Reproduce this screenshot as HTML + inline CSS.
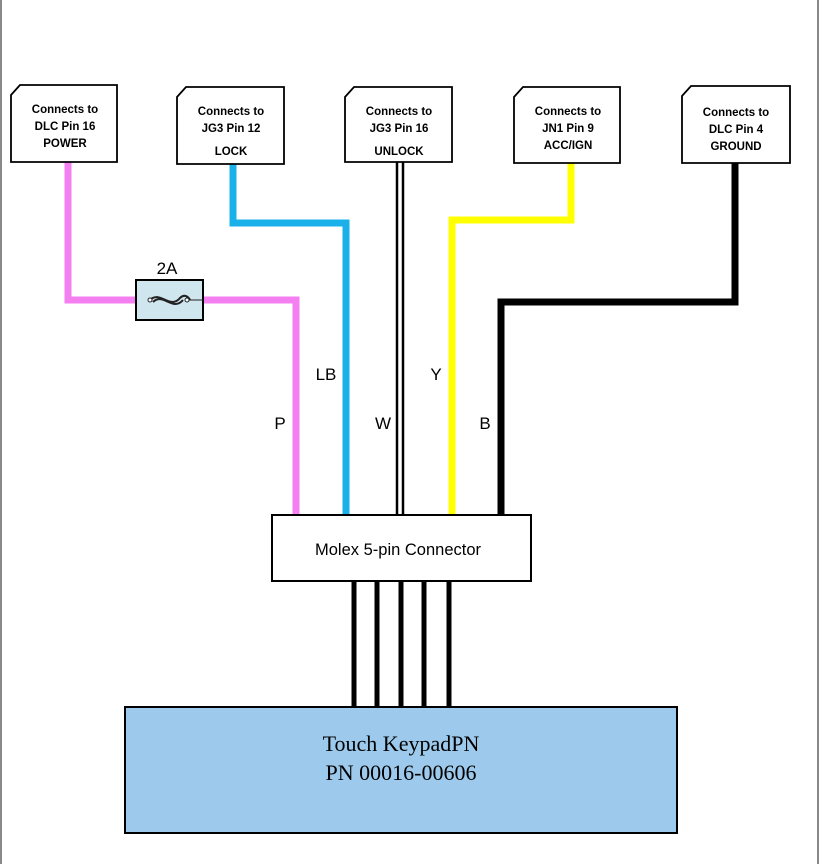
<!DOCTYPE html>
<html><head><style>body{margin:0;background:#fff}svg{display:block}</style></head><body>
<svg width="820" height="864" viewBox="0 0 820 864" xmlns="http://www.w3.org/2000/svg" font-family="Liberation Sans, sans-serif">
<rect x="0" y="0" width="820" height="864" fill="#fff"/>
<line x1="1" y1="0" x2="1" y2="864" stroke="#888" stroke-width="2"/>
<line x1="818" y1="0" x2="818" y2="864" stroke="#888" stroke-width="2"/>
<polyline points="68,162 68,300 136,300" fill="none" stroke="#f47ff0" stroke-width="7"/>
<polyline points="203,300 296,300 296,515" fill="none" stroke="#f47ff0" stroke-width="7"/>
<polyline points="233,164 233,223 346,223 346,515" fill="none" stroke="#1ab0ea" stroke-width="7"/>
<line x1="397" y1="162" x2="397" y2="515" stroke="#000" stroke-width="2.5"/>
<line x1="403" y1="162" x2="403" y2="515" stroke="#000" stroke-width="2.5"/>
<polyline points="571,163 571,220 452,220 452,515" fill="none" stroke="#ffff00" stroke-width="7"/>
<polyline points="735,163 735,302 501,302 501,515" fill="none" stroke="#000" stroke-width="7"/>
<rect x="136" y="280" width="67" height="40" fill="#cfe6ef" stroke="#000" stroke-width="2"/>
<path d="M150,300 C160,290 170,310 180,298 C184,294 188,296 190,300 M153,302 C163,292 173,312 183,300" fill="none" stroke="#222" stroke-width="2"/>
<circle cx="150" cy="300" r="2" fill="#fff" stroke="#222"/><circle cx="187" cy="300" r="2" fill="#fff" stroke="#222"/>
<line x1="189" y1="300" x2="203" y2="300" stroke="#222"/>
<text x="167" y="274" font-size="17" text-anchor="middle">2A</text>
<g font-size="17" text-anchor="middle">
<text x="280" y="429">P</text><text x="326" y="380">LB</text><text x="383" y="429">W</text><text x="436" y="380">Y</text><text x="485" y="429">B</text>
</g>
<g fill="#fff" stroke="#000" stroke-width="1.8">
<path d="M20,85 H117 V162 H11 V95 Z"/>
<path d="M186,87 H284 V164 H177 V97 Z"/>
<path d="M354,87 H452 V162 H345 V97 Z"/>
<path d="M523,87 H620 V163 H514 V97 Z"/>
<path d="M691,86 H790 V163 H682 V96 Z"/>
</g>
<g font-size="11.5" font-weight="bold" text-anchor="middle">
<text x="65" y="113">Connects to</text><text x="65" y="130">DLC Pin 16</text><text x="65" y="147">POWER</text>
<text x="231" y="115">Connects to</text><text x="231" y="132">JG3 Pin 12</text><text x="231" y="155">LOCK</text>
<text x="399" y="115">Connects to</text><text x="399" y="132">JG3 Pin 16</text><text x="399" y="155">UNLOCK</text>
<text x="568" y="115">Connects to</text><text x="568" y="132">JN1 Pin 9</text><text x="568" y="149">ACC/IGN</text>
<text x="736" y="116">Connects to</text><text x="736" y="133">DLC Pin 4</text><text x="736" y="150">GROUND</text>
</g>
<g stroke="#000" stroke-width="5">
<line x1="354" y1="581" x2="354" y2="707"/><line x1="377" y1="581" x2="377" y2="707"/><line x1="401" y1="581" x2="401" y2="707"/><line x1="424" y1="581" x2="424" y2="707"/><line x1="449" y1="581" x2="449" y2="707"/>
</g>
<rect x="272" y="515" width="259" height="66" fill="#fff" stroke="#000" stroke-width="2"/>
<text x="398" y="555" font-size="16.5" text-anchor="middle">Molex 5-pin Connector</text>
<rect x="125" y="707" width="552" height="126" fill="#9dcaec" stroke="#000" stroke-width="2"/>
<g font-family="Liberation Serif, serif" font-size="22" text-anchor="middle">
<text x="401" y="751">Touch KeypadPN</text><text x="401" y="780">PN 00016-00606</text>
</g>
</svg>
</body></html>
